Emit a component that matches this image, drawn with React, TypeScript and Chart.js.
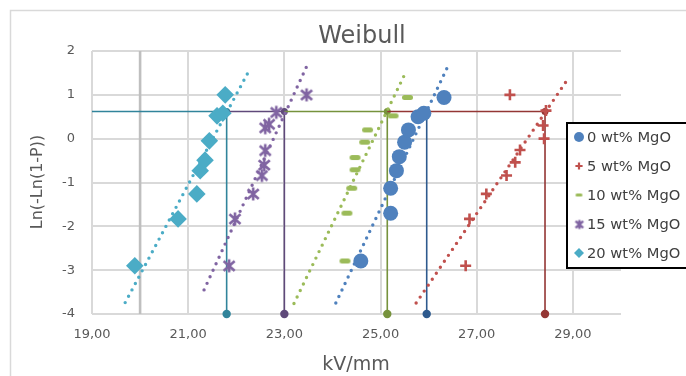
import React, { useEffect, useRef } from "react";
import { Chart, registerables } from "chart.js";
import { drawPoint } from "chart.js/helpers";

Chart.register(...registerables);

// ---- data ----
const seriesNames = ["0 wt% MgO", "5 wt% MgO", "10 wt% MgO", "15 wt% MgO", "20 wt% MgO"];

const mgo0X = [24.59, 25.21, 25.21, 25.33, 25.39, 25.5, 25.58, 25.78, 25.9, 26.32];
const mgo0Y = [-2.79, -1.7, -1.13, -0.73, -0.41, -0.08, 0.2, 0.5, 0.58, 0.94];

const mgo5X = [26.77, 26.85, 27.2, 27.62, 27.8, 27.9, 28.4, 28.38, 28.44, 27.69];
const mgo5Y = [-2.9, -1.83, -1.26, -0.84, -0.54, -0.26, 0.0, 0.3, 0.64, 1.0];

const mgo10X = [24.26, 24.3, 24.4, 24.47, 24.47, 24.67, 24.73, 25.26, 25.56];
const mgo10Y = [-2.79, -1.7, -1.13, -0.71, -0.43, -0.08, 0.2, 0.52, 0.94];

const mgo15X = [21.85, 21.97, 22.35, 22.53, 22.58, 22.6, 22.6, 22.68, 22.83, 23.46];
const mgo15Y = [-2.9, -1.83, -1.26, -0.84, -0.6, -0.27, 0.25, 0.33, 0.6, 1.0];

const mgo20X = [19.89, 20.79, 21.18, 21.25, 21.35, 21.44, 21.6, 21.72, 21.77];
const mgo20Y = [-2.9, -1.83, -1.26, -0.73, -0.49, -0.05, 0.52, 0.58, 1.0];

// trendline end points (x0, y0, x1, y1)
const trend0 = [24.07, -3.75, 26.4, 1.65];
const trend5 = [25.74, -3.75, 28.85, 1.29];
const trend10 = [23.2, -3.76, 25.5, 1.46];
const trend15 = [21.33, -3.45, 23.46, 1.64];
const trend20 = [19.69, -3.74, 22.26, 1.54];

// drop lines: x of each series at the reference level, and where its horizontal part starts
const dropX = [25.96, 28.42, 25.14, 23.0, 21.8];
const dropStartX = [25.96, 25.14, 23.0, 21.8, 19];
const dropLevel = 0.62;

const xTickValues = [19, 21, 23, 25, 27, 29];
const yTickValues = [-4, -3, -2, -1, 0, 1, 2];
const axisCrossX = 20;

// ---- styles ----
const markerColors = ["#4F81BD", "#C0504D", "#9BBB59", "#8064A2", "#4BACC6"];
const dropColors = ["#2E5A8E", "#943634", "#76923C", "#5F497A", "#31849B"];
const FONT = "'DejaVu Sans', sans-serif";

function makeDash(w: number, h: number, color: string) {
  const c = document.createElement("canvas");
  c.width = w + 2;
  c.height = h + 2;
  const ctx = c.getContext("2d")!;
  ctx.fillStyle = color;
  const r = h / 2;
  ctx.beginPath();
  ctx.moveTo(1 + r, 1);
  ctx.lineTo(1 + w - r, 1);
  ctx.arc(1 + w - r, 1 + r, r, -Math.PI / 2, Math.PI / 2);
  ctx.lineTo(1 + r, 1 + h);
  ctx.arc(1 + r, 1 + r, r, Math.PI / 2, (3 * Math.PI) / 2);
  ctx.fill();
  return c;
}

function makeStar(s: number, color: string, lw: number) {
  const c = document.createElement("canvas");
  const size = s + lw * 2;
  c.width = size;
  c.height = size;
  const ctx = c.getContext("2d")!;
  ctx.strokeStyle = color;
  ctx.lineWidth = lw;
  ctx.lineCap = "butt";
  const m = size / 2;
  const h = s / 2;
  ctx.beginPath();
  ctx.moveTo(m - h * 0.85, m - h * 0.75);
  ctx.lineTo(m + h * 0.85, m + h * 0.75);
  ctx.moveTo(m + h * 0.85, m - h * 0.75);
  ctx.lineTo(m - h * 0.85, m + h * 0.75);
  ctx.moveTo(m, m - h);
  ctx.lineTo(m, m + h);
  ctx.stroke();
  return c;
}

const zip = (xs: number[], ys: number[]) => xs.map((x, i) => ({ x, y: ys[i] }));
const fmt = (v: number) => v.toFixed(2).replace(".", ",");

export default function App() {
  const ref = useRef<HTMLCanvasElement | null>(null);

  useEffect(() => {
    const canvas = ref.current!;
    const dashImg = makeDash(11, 5, markerColors[2]);
    const starImg = makeStar(13, markerColors[3], 2.6);
    const dashLeg = makeDash(7, 3, markerColors[2]);
    const starLeg = makeStar(9, markerColors[3], 2.4);

    const markerSets = [
      { data: zip(mgo0X, mgo0Y), pointStyle: "circle", pointRadius: 7.5, borderWidth: 0 },
      { data: zip(mgo5X, mgo5Y), pointStyle: "cross", pointRadius: 5.5, borderWidth: 2.6 },
      { data: zip(mgo10X, mgo10Y), pointStyle: dashImg, pointRadius: 6, borderWidth: 0 },
      { data: zip(mgo15X, mgo15Y), pointStyle: starImg, pointRadius: 7, borderWidth: 0 },
      { data: zip(mgo20X, mgo20Y), pointStyle: "rectRot", pointRadius: 8.8, borderWidth: 0 },
    ];
    const trends = [trend0, trend5, trend10, trend15, trend20];

    const datasets: any[] = [];
    markerSets.forEach((m, i) => {
      datasets.push({
        label: seriesNames[i],
        data: m.data,
        showLine: false,
        pointStyle: m.pointStyle,
        pointRadius: m.pointRadius,
        pointBackgroundColor: markerColors[i],
        pointBorderColor: markerColors[i],
        pointBorderWidth: m.borderWidth,
        order: 1,
      });
    });
    trends.forEach((t, i) => {
      datasets.push({
        label: "trend" + i,
        data: [
          { x: t[0], y: t[1] },
          { x: t[2], y: t[3] },
        ],
        showLine: true,
        borderColor: markerColors[i],
        borderWidth: 3.4,
        borderDash: [0, 7.2],
        borderCapStyle: "round",
        pointRadius: 0,
        order: 2,
      });
    });
    dropX.forEach((x, i) => {
      datasets.push({
        label: "drop" + i,
        data: [
          { x: dropStartX[i], y: dropLevel },
          { x, y: dropLevel },
          { x, y: yTickValues[0] },
        ],
        showLine: true,
        borderColor: dropColors[i],
        borderWidth: 1.6,
        pointRadius: [0, 3.5, 4.2],
        pointBackgroundColor: dropColors[i],
        pointBorderWidth: 0,
        clip: false,
        order: 3,
      });
    });
    datasets.push({
      label: "axis",
      data: [
        { x: axisCrossX, y: yTickValues[0] },
        { x: axisCrossX, y: yTickValues[yTickValues.length - 1] },
      ],
      showLine: true,
      borderColor: "#BFBFBF",
      borderWidth: 2.6,
      pointRadius: 0,
      order: 20,
    });

    const legendMarkers: any[] = [
      { style: "circle", r: 5, bw: 0 },
      { style: "cross", r: 3.6, bw: 2.2 },
      { style: dashLeg, r: 4, bw: 0 },
      { style: starLeg, r: 5, bw: 0 },
      { style: "rectRot", r: 5, bw: 0 },
    ];

    const decor = {
      id: "decor",
      beforeDraw(chart: any) {
        const ctx = chart.ctx;
        ctx.save();
        ctx.fillStyle = "#FFFFFF";
        ctx.fillRect(0, 0, chart.width, chart.height);
        ctx.strokeStyle = "#D9D9D9";
        ctx.lineWidth = 1.5;
        ctx.strokeRect(10.5, 10.5, 900, 900);
        ctx.restore();
      },
      afterDraw(chart: any) {
        const ctx = chart.ctx;
        ctx.save();
        // title
        ctx.fillStyle = "#595959";
        ctx.textAlign = "center";
        ctx.textBaseline = "alphabetic";
        ctx.font = `24px ${FONT}`;
        ctx.fillText("Weibull", 362, 43);
        // x title
        ctx.font = `19px ${FONT}`;
        ctx.fillText("kV/mm", 356, 370);
        // y title
        ctx.save();
        ctx.translate(38, 182);
        ctx.rotate(-Math.PI / 2);
        ctx.textBaseline = "middle";
        ctx.font = `16px ${FONT}`;
        ctx.fillText("Ln(-Ln(1-P))", 0, 0);
        ctx.restore();
        // legend
        ctx.fillStyle = "#FFFFFF";
        ctx.fillRect(567, 123, 200, 145);
        ctx.strokeStyle = "#000000";
        ctx.lineWidth = 2;
        ctx.strokeRect(567, 123, 200, 145);
        ctx.font = `14.7px ${FONT}`;
        ctx.textAlign = "left";
        ctx.textBaseline = "middle";
        seriesNames.forEach((name, i) => {
          const y = 137 + i * 29;
          const lm = legendMarkers[i];
          ctx.fillStyle = markerColors[i];
          ctx.strokeStyle = markerColors[i];
          ctx.lineWidth = lm.bw || 1;
          drawPoint(ctx, { pointStyle: lm.style, radius: lm.r, rotation: 0, borderWidth: lm.bw }, 579, y);
          ctx.fillStyle = "#404040";
          ctx.fillText(name, 587, y + 1);
        });
        ctx.restore();
      },
    };

    const chart = new Chart(canvas, {
      type: "scatter",
      data: { datasets },
      options: {
        animation: false,
        responsive: false,
        layout: { padding: { left: 0, top: 51, right: 65, bottom: 0 } },
        plugins: { legend: { display: false }, tooltip: { enabled: false }, title: { display: false } },
        scales: {
          x: {
            type: "linear",
            min: 19,
            max: 30,
            afterBuildTicks: (axis: any) => {
              axis.ticks = xTickValues.map((v) => ({ value: v }));
            },
            afterFit: (axis: any) => {
              axis.height = 62;
            },
            grid: { color: "#D9D9D9", lineWidth: 2, drawTicks: false },
            border: { display: false },
            ticks: {
              color: "#595959",
              font: { family: FONT, size: 13 },
              padding: 13,
              maxRotation: 0,
              autoSkip: false,
              callback: (v: any) => fmt(Number(v)),
            },
          },
          y: {
            type: "linear",
            min: -4,
            max: 2,
            afterBuildTicks: (axis: any) => {
              axis.ticks = yTickValues.map((v) => ({ value: v }));
            },
            afterFit: (axis: any) => {
              axis.width = 92;
            },
            grid: { color: "#D9D9D9", lineWidth: 2, drawTicks: false },
            border: { display: false },
            ticks: {
              color: "#595959",
              font: { family: FONT, size: 13 },
              padding: 17,
              callback: (v: any) => String(v),
            },
          },
        },
      },
      plugins: [decor],
    });
    return () => chart.destroy();
  }, []);

  return (
    <div style={{ position: "absolute", left: 0, top: 0, width: 686, height: 376 }}>
      <canvas ref={ref} width={686} height={376} style={{ display: "block", width: 686, height: 376 }} />
    </div>
  );
}
